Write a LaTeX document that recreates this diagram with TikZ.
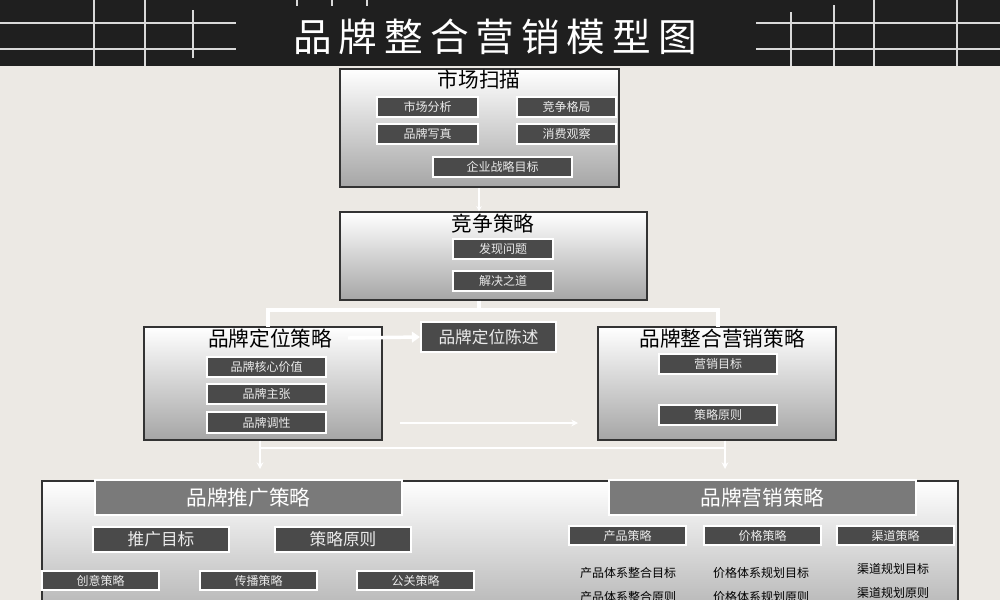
\documentclass[tikz,border=0pt]{standalone}
\usepackage{fontspec}
\setmainfont{Noto Sans CJK SC}
\newfontfamily\titlefont[LetterSpace=18]{Noto Sans CJK SC}
\usetikzlibrary{arrows.meta}
\definecolor{bgc}{HTML}{ECE9E4}
\definecolor{darkbox}{HTML}{4A4A4A}
\definecolor{banner}{HTML}{7A7A7A}
\tikzset{
 panel/.style={draw=black!80, line width=0.8pt, top color=white, bottom color=black!35, inner sep=0pt},
 item/.style={draw=white, line width=1.6pt, fill=darkbox, text=white!92!black, font=\fontsize{9}{9}\selectfont, inner sep=0pt},
 bigitem/.style={item, font=\fontsize{12.5}{12}\selectfont},
 bann/.style={draw=white, line width=2pt, fill=banner, text=white, font=\fontsize{15.5}{15}\selectfont, inner sep=0pt},
 ptitle/.style={font=\fontsize{15.5}{15}\selectfont, text=black, inner sep=0pt},
 plain/.style={font=\fontsize{9}{9}\selectfont, text=black, inner sep=0pt},
 conn/.style={draw=white, line width=2.6pt},
 thinconn/.style={draw=white, line width=1.5pt},
 grid/.style={draw=white!85!black, line width=1.2pt}
}
\newcommand{\bx}[7]{\node[#6, minimum width={(#4-#2)*0.75pt}, minimum height={(#5-#3)*0.75pt}] (#1) at ({(#2+#4)/2},{(#3+#5)/2}) {#7};}
\begin{document}
\begin{tikzpicture}[x=0.75pt,y=-0.75pt]
\fill[bgc] (0,0) rectangle (1000,600);
\useasboundingbox (0,0) rectangle (1000,600);
% header
\fill[black!88] (0,0) rectangle (1000,66);
\draw[grid] (0,23) -- (236,23) (0,49) -- (236,49);
\draw[grid] (94,0) -- (94,66) (145,0) -- (145,66) (193,10) -- (193,58);
\draw[grid] (297,0) -- (297,6) (332,0) -- (332,6) (367,0) -- (367,6);
\draw[grid] (756,23) -- (1000,23) (756,49) -- (1000,49);
\draw[grid] (791,12) -- (791,66) (834,5) -- (834,66) (874,0) -- (874,66) (957,0) -- (957,66);
\node[text=white, font=\titlefont\fontsize{29}{29}\selectfont, inner sep=0pt] (title) at (495,37) {品牌整合营销模型图};
% market scan
\bx{scan}{340}{69}{619}{187}{panel}{}
\node[ptitle] (scanT) at (479,80) {市场扫描};
\bx{a1}{377}{97}{478}{117}{item}{市场分析}
\bx{a2}{517}{97}{616}{117}{item}{竞争格局}
\bx{a3}{377}{124}{478}{144}{item}{品牌写真}
\bx{a4}{517}{124}{616}{144}{item}{消费观察}
\bx{a5}{433}{157}{572}{177}{item}{企业战略目标}
% competition
\bx{comp}{340}{212}{647}{300}{panel}{}
\node[ptitle] (compT) at (493,224) {竞争策略};
\bx{b1}{453}{239}{553}{259}{item}{发现问题}
\bx{b2}{453}{271}{553}{291}{item}{解决之道}
\draw[-{Stealth[length=4pt,width=4pt]}, draw=white, line width=0.8pt] (479,188) -- (comp.north -| 479,0);
% positioning
\bx{pos}{144}{327}{382}{440}{panel}{}
\node[ptitle] (posT) at (270,339) {品牌定位策略};
\bx{c1}{207}{357}{326}{377}{item}{品牌核心价值}
\bx{c2}{207}{384}{326}{404}{item}{品牌主张}
\bx{c3}{207}{412}{326}{433}{item}{品牌调性}
\bx{stmt}{421}{322}{556}{352}{bigitem}{品牌定位陈述}
% IMC
\bx{imc}{598}{327}{836}{440}{panel}{}
\node[ptitle] (imcT) at (722,339) {品牌整合营销策略};
\bx{d1}{659}{354}{777}{374}{item}{营销目标}
\bx{d2}{659}{405}{777}{425}{item}{策略原则}
% connectors
\coordinate (j1) at (479,310);
\draw[conn] (comp.south -| j1) -- (j1);
\draw[conn] (268,327) -- (268,310) -- (718,310) -- (718,327);
\draw[conn, -{Triangle[length=6pt,width=8pt]}] (348,338) -- (stmt.west);
\coordinate (m1) at (400,423);
\coordinate (m2) at (578,423);
\draw[thinconn, -{Stealth[length=5pt,width=5pt]}] (m1) -- (m2);
\draw[thinconn] (260,448) -- (725,448);
\draw[thinconn, -{Stealth[length=5pt,width=5pt]}] (pos.south -| 260,0) -- (260,469);
\draw[thinconn, -{Stealth[length=5pt,width=5pt]}] (imc.south -| 725,0) -- (725,469);
% bottom
\bx{bot}{42}{481}{958}{640}{panel}{}
\bx{p0}{95}{480}{402}{515}{bann}{品牌推广策略}
\bx{p1}{93}{527}{229}{552}{bigitem}{推广目标}
\bx{p2}{275}{527}{411}{552}{bigitem}{策略原则}
\bx{p3}{42}{571}{159}{590}{item}{创意策略}
\bx{p4}{200}{571}{317}{590}{item}{传播策略}
\bx{p5}{357}{571}{474}{590}{item}{公关策略}
\bx{q0}{609}{480}{916}{515}{bann}{品牌营销策略}
\bx{q1}{569}{526}{686}{545}{item}{产品策略}
\bx{q2}{704}{526}{821}{545}{item}{价格策略}
\bx{q3}{837}{526}{954}{545}{item}{渠道策略}
\node[plain] (r1) at (628,573) {产品体系整合目标};
\node[plain] (r2) at (628,597) {产品体系整合原则};
\node[plain] (r3) at (761,573) {价格体系规划目标};
\node[plain] (r4) at (761,597) {价格体系规划原则};
\node[plain] (r5) at (893,569) {渠道规划目标};
\node[plain] (r6) at (893,593) {渠道规划原则};
\end{tikzpicture}
\end{document}
